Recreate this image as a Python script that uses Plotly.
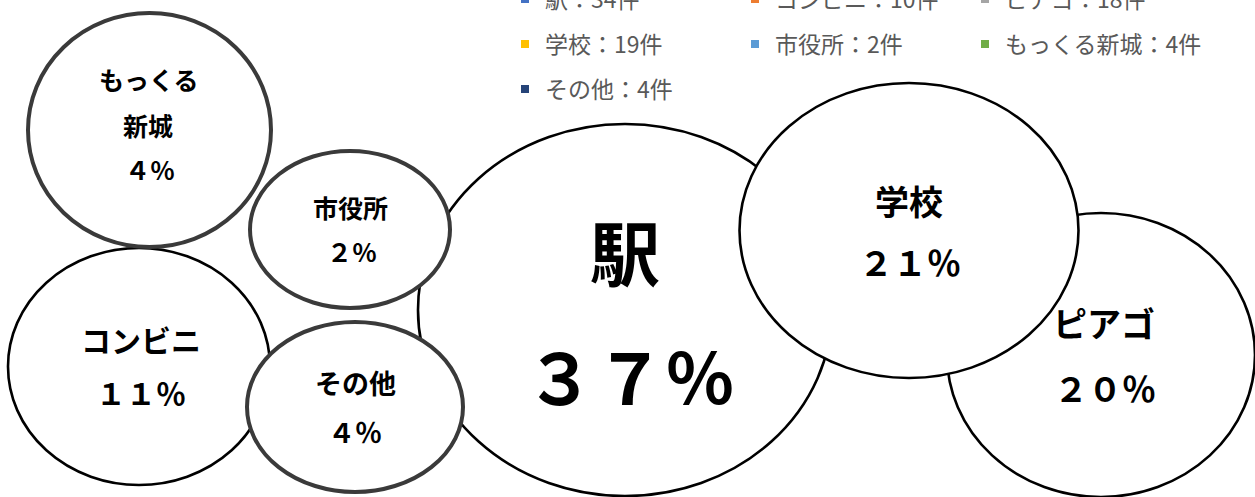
import plotly.graph_objects as go

# ---- data ----
categories = ["駅", "コンビニ", "ピアゴ", "学校", "市役所", "もっくる新城", "その他"]
counts = [34, 10, 18, 19, 2, 4, 4]
percent_labels = ["３７％", "１１％", "２０％", "２１％", "２％", "４％", "４％"]
bubble_names = [["駅"], ["コンビニ"], ["ピアゴ"], ["学校"], ["市役所"], ["もっくる", "新城"], ["その他"]]
legend_colors = ["#4472C4", "#ED7D31", "#A5A5A5", "#FFC000", "#5B9BD5", "#70AD47", "#264478"]

# ---- bubble geometry (axis units), drawing order & style ----
bubble_cx = [625, 139, 1101, 909, 350, 149.5, 355]
bubble_cy = [310, 366.5, 355, 230.5, 229.5, 130, 407]
bubble_rx = [207, 131, 154, 169.5, 100, 121.5, 108]
bubble_ry = [186, 118.5, 142, 147.5, 78.5, 117, 85]
draw_order = [0, 2, 3, 1, 5, 4, 6]
line_col = ["#000000", "#000000", "#000000", "#000000", "#3a3a3a", "#3a3a3a", "#3a3a3a"]
line_w = [2.6, 2.6, 2.6, 2.6, 4, 4, 4]
# label line positions and sizes
label_x = [[625, 630], [141, 141], [1104, 1105], [909, 910], [350, 352], [149, 148, 150], [355, 355]]
label_y = [[250, 374], [339, 392], [322, 387], [200, 261], [207, 251], [79, 125, 169], [382, 431]]
label_size = [70, 30, 34, 34, 25, 25, 27]

fig = go.Figure()

# legend blocks: rows 1-3 (first two columns) plus separate blocks for the third column
legend_id = ["legend", "legend", "legend4", "legend2", "legend2", "legend5", "legend3"]
for i, cat in enumerate(categories):
    fig.add_trace(go.Scatter(
        x=[None], y=[None], mode="markers",
        name=f"{cat}：{counts[i]}件",
        marker=dict(symbol="square", size=8, color=legend_colors[i]),
        legend=legend_id[i], showlegend=True, hoverinfo="skip"))

shapes = []
for i in draw_order:
    shapes.append(dict(
        type="circle", xref="x", yref="y",
        x0=bubble_cx[i] - bubble_rx[i], x1=bubble_cx[i] + bubble_rx[i],
        y0=bubble_cy[i] - bubble_ry[i], y1=bubble_cy[i] + bubble_ry[i],
        fillcolor="white", line=dict(color=line_col[i], width=line_w[i]),
        layer="above"))

annotations = []
for i in range(len(categories)):
    lines = bubble_names[i] + [percent_labels[i]]
    for j, t in enumerate(lines):
        annotations.append(dict(
            x=label_x[i][j], y=label_y[i][j], xref="x", yref="y",
            text=t, showarrow=False, xanchor="center", yanchor="middle",
            font=dict(family="Noto Sans CJK JP", size=label_size[i],
                      color="#000000", weight="bold")))

leg_font = dict(family="Noto Sans CJK JP", size=23, color="#595959")
H = 497.0
W = 1255.0
leg_common = dict(orientation="h", xanchor="left", yanchor="middle",
                  font=leg_font, bgcolor="rgba(0,0,0,0)", borderwidth=0,
                  entrywidth=185, entrywidthmode="pixels", itemclick=False)
leg_free = dict(orientation="h", xanchor="left", yanchor="middle",
                font=leg_font, bgcolor="rgba(0,0,0,0)", borderwidth=0,
                itemclick=False)

fig.update_layout(
    width=1255, height=497,
    margin=dict(l=0, r=0, t=0, b=0, autoexpand=False),
    paper_bgcolor="white", plot_bgcolor="white",
    xaxis=dict(range=[0, W], visible=False, fixedrange=True),
    yaxis=dict(range=[H, 0], visible=False, fixedrange=True),
    shapes=shapes, annotations=annotations,
    legend=dict(x=505 / W, y=1 + 1 / H, **leg_common),
    legend2=dict(x=505 / W, y=1 - 44 / H, **leg_common),
    legend3=dict(x=505 / W, y=1 - 89 / H, **leg_common),
    legend4=dict(x=965 / W, y=1 + 1 / H, **leg_free),
    legend5=dict(x=965 / W, y=1 - 44 / H, **leg_free),
    font=dict(family="Noto Sans CJK JP"),
)

fig.write_html(
    "out.html",
    config={"displayModeBar": False},
    post_script="document.body.style.margin='0';document.body.style.overflow='hidden';",
)
